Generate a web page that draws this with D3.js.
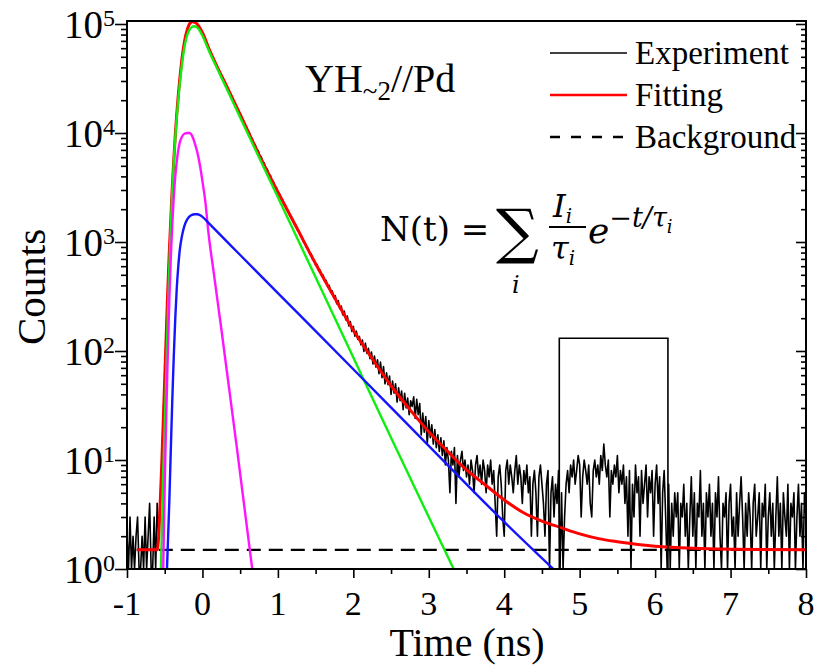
<!DOCTYPE html>
<html><head><meta charset="utf-8">
<script src="https://cdn.jsdelivr.net/npm/d3@7"></script>
<style>body{margin:0;background:#fff}svg{display:block}</style>
</head><body><svg id="c" width="815" height="668"></svg>
<script>
// ---------- data ----------
const xTicks = [-1,0,1,2,3,4,5,6,7,8];
const xMinorTicks = [-0.5,0.5,1.5,2.5,3.5,4.5,5.5,6.5,7.5];
const yTickExps = [0,1,2,3,4,5];
const legendLabels = ["Experiment","Fitting","Background"];

// experimental decay (counts per 0.02 ns channel), in four segments
const expStep = 0.02;
const expSegStarts = [-1.00, 1.20, 3.02, 6.22];
const expCountsA = [2,0,3,1,2,0,2,3,1,0,2,1,3,0,2,4,1,0,3,1,4,2,
  4,9,23,54,145,350,800,1570,3180,5600,9500,15200,22300,31700,42600,55100,67500,79300,89200,97600,102200,104500,104800,103400,101000,98000,93500,88500,
  83000,76200,70500,65800,60100,56600,52100,49300,45400,43000,
  39500,37500,34800,33000,30600,29000,26800,25400,23400,22300,
  20500,19500,17900,17100,15600,14950,13800,13150,12050,11550,
  10600,10150,9250,8900,8100,7800,7100,6870,6220,6030,
  5460,5290,4780,4650,4190,4090,3670,3600,3210,3160,
  2820,2780,2490,2450,2200,2180,1950,1920,1730,1700];
const expCountsB = [1590,1455,1420,1285,1262,1140,1112,1003,985,890,
  872,790,780,695,688,612,620,548,552,489,
  497,436,444,388,401,345,356,307,322,271,
  290,244,258,214,232,193,210,170,186,151,
  168,137,152,128,136,114,126,99,118,95,
  106,85,98,76,90,71,83,62,79,57,
  72,50,63,49,59,40,53,41,50,34,
  46,35,43,29,41,30,37,26,35,31,
  38,24,36,26,33,17,27,18,25,14,
  23];
const expCountsC = [16,21,14,19,13,17,12,16,11,15,9,13,10,5,12,9,13,4,11,7,10,12,8,10,7,
  9,6,10,8,5,9,11,7,9,6,10,8,5,9,7,10,6,8,4,2,7,9,6,3,2,8,10,6,9,7,
  5,8,11,6,9,7,4,8,6,9,5,7,2,6,8,5,2,7,9,6,4,2,6,8,0,5,7,3,6,4,8,0,5,0,3,6,
  8,5,9,7,10,6,8,11,9,3,7,10,8,6,9,4,3,8,10,7,9,6,11,8,14,9,7,10,3,8,6,9,7,11,5,8,6,9,4,
  7,2,8,0,6,3,9,5,7,2,8,4,6,9,3,7,5,8,2,6,9,4,7,0,5,8,3,0,6,1];
const expCountsD = [4,2,5,3,5,1,4,3,6,2, 4,0,3,7,2,5,1,4,3,8, 2,4,0,5,3,6,2,4,1,5,
  3,7,2,0,4,3,5,1,4,6, 2,3,0,5,2,4,7,3,1,4, 2,5,3,0,4,6,2,3,5,1,
  4,3,6,0,3,5,2,4,1,3, 7,2,4,0,5,3,2,6,1,4, 3,5,0,3,6,2,4,1,5,3];

// total fit (red)
const fitT = [-0.87,-0.6,-0.58,-0.56,-0.54,-0.52,-0.50,-0.48,-0.46,-0.44,-0.42,-0.40,-0.38,-0.36,-0.34,-0.32,-0.30,-0.28,-0.26,-0.24,-0.22,-0.20,-0.18,-0.16,-0.13,-0.10,-0.07,-0.04,0,0.1,0.2,0.3,0.5,0.75,1.0,1.25,1.5,1.75,2.0,2.25,2.5,2.75,3.0,3.25,3.5,3.75,4.0,4.25,4.5,4.75,5.0,5.25,5.5,6.0,6.5,7.0,8.0];
const fitV = [1.5,1.5,2.0,4.0,8.9,22,56,141,355,794,1585,3162,5623,9550,15100,22400,31600,42700,55000,67600,79400,89100,97700,102300,104700,103500,100000,93300,83200,56300,39800,28800,14800,6310,2880,1350,631,309,155,85,48,29,18.2,12.0,8.1,5.9,4.3,3.3,2.75,2.4,2.1,1.9,1.78,1.62,1.55,1.52,1.5];
// component 1 (green)
const c1T = [-0.55,-0.52,-0.50,-0.48,-0.46,-0.44,-0.42,-0.40,-0.38,-0.36,-0.34,-0.32,-0.30,-0.28,-0.26,-0.24,-0.22,-0.20,-0.17,-0.14,-0.11,-0.08,-0.05,0,0.1,0.2,0.5,1.0,1.5,2.0,2.5,3.0,3.33];
const c1V = [1,8,20,63,200,560,1350,2900,5400,9000,14000,20500,28500,38000,49000,60500,71000,80000,89000,94000,95500,94000,90000,78000,54000,38500,13900,2570,475,87,16,3.0,1];
// component 2 (magenta)
const c2T = [-0.52,-0.50,-0.48,-0.46,-0.44,-0.42,-0.40,-0.38,-0.36,-0.34,-0.32,-0.30,-0.27,-0.24,-0.20,-0.17,-0.14,-0.10,-0.06,-0.03,0,0.04,0.075,0.15,0.25,0.45,0.66];
const c2V = [1,6,25,90,280,700,1450,2600,4000,5500,7000,8200,9300,9850,10000,10000,9500,8000,6300,4900,3600,2300,1300,520,160,14,1];
// component 3 (blue)
const c3T = [-0.47,-0.44,-0.42,-0.40,-0.38,-0.36,-0.34,-0.32,-0.30,-0.27,-0.24,-0.20,-0.15,-0.10,-0.07,-0.03,0,0.1,0.5,1.0,2.0,3.0,4.0,4.65];
const c3V = [1,4,12,35,90,200,380,600,850,1150,1400,1620,1760,1800,1800,1760,1700,1450,760,340,68,13.5,2.7,1];
// background level and gate window
const bgLevel = 1.5, bgStart = -0.87, bgEnd = 8;
const gateStart = 4.73, gateEnd = 6.17, gateTop = 131;

// ---------- chart ----------
const svg = d3.select("#c");
const L = 127, R = 806, T = 21, B = 569;
const x = d3.scaleLinear().domain([-1, 8]).range([L, R]);
const y = d3.scaleLog().domain([1, Math.pow(10, (B - T) / 109)]).range([B, T]).clamp(true);
const serif = "'Liberation Serif','Times New Roman',serif";

svg.append("defs").append("clipPath").attr("id","clip")
  .append("rect").attr("x",L).attr("y",T).attr("width",R-L).attr("height",B-T);

const plot = svg.append("g").attr("clip-path","url(#clip)");

const expPts = [];
[expCountsA, expCountsB, expCountsC, expCountsD].forEach((arr, s) => {
  arr.forEach((v, i) => expPts.push([expSegStarts[s] + i * expStep, v]));
});
const line = d3.line().x(d => x(d[0])).y(d => y(Math.max(d[1], 1)));
const smooth = d3.line().x(d => x(d[0])).y(d => y(Math.max(d[1], 1))).curve(d3.curveMonotoneX);

plot.append("path").datum(expPts).attr("d", line)
  .attr("fill","none").attr("stroke","#000").attr("stroke-width",1.6).attr("stroke-linejoin","round");

plot.append("path").datum([[bgStart,bgLevel],[bgEnd,bgLevel]]).attr("d", line)
  .attr("fill","none").attr("stroke","#000").attr("stroke-width",2.2).attr("stroke-dasharray","14,8");

const zip = (a, b) => a.map((t, i) => [t, b[i]]);
plot.append("path").datum(zip(fitT, fitV)).attr("d", smooth)
  .attr("fill","none").attr("stroke","#ff0000").attr("stroke-width",3);
plot.append("path").datum(zip(c1T, c1V)).attr("d", smooth)
  .attr("fill","none").attr("stroke","#10ee10").attr("stroke-width",2.4);
plot.append("path").datum(zip(c2T, c2V)).attr("d", smooth)
  .attr("fill","none").attr("stroke","#ff14ff").attr("stroke-width",2.4);
plot.append("path").datum(zip(c3T, c3V)).attr("d", smooth)
  .attr("fill","none").attr("stroke","#1414ff").attr("stroke-width",2.4);

plot.append("path")
  .attr("d", `M${x(gateStart)},${y(1)}V${y(gateTop)}H${x(gateEnd)}V${y(1)}`)
  .attr("fill","none").attr("stroke","#000").attr("stroke-width",1.6);

// ---------- axes ----------
const majorY = yTickExps.map(e => Math.pow(10, e));
const minorY = [];
yTickExps.forEach(e => { if (e < 5) for (let k = 2; k <= 9; k++) minorY.push(k * Math.pow(10, e)); });

function styleAxis(g) {
  g.select(".domain").remove();
  g.selectAll("line").attr("stroke","#000").attr("stroke-width",1.6);
}
svg.append("g").attr("transform",`translate(0,${B})`)
  .call(d3.axisBottom(x).tickValues(xTicks).tickSize(9).tickFormat(""))
  .call(styleAxis);
svg.append("g").attr("transform",`translate(0,${B})`)
  .call(d3.axisBottom(x).tickValues(xMinorTicks).tickSize(5).tickFormat(""))
  .call(styleAxis);
svg.append("g").attr("transform",`translate(${L},0)`)
  .call(d3.axisLeft(y).tickValues(majorY).tickSize(12).tickFormat(""))
  .call(styleAxis);
svg.append("g").attr("transform",`translate(${L},0)`)
  .call(d3.axisLeft(y).tickValues(minorY).tickSize(6).tickFormat(""))
  .call(styleAxis);
// right axis: ticks pointing inward
svg.append("g").attr("transform",`translate(${R},0)`)
  .call(d3.axisRight(y).tickValues(majorY).tickSize(-10).tickFormat(""))
  .call(styleAxis);
svg.append("g").attr("transform",`translate(${R},0)`)
  .call(d3.axisRight(y).tickValues(minorY).tickSize(-5).tickFormat(""))
  .call(styleAxis);

svg.append("rect").attr("x",L).attr("y",T).attr("width",R-L).attr("height",B-T)
  .attr("fill","none").attr("stroke","#000").attr("stroke-width",2);

// tick labels
svg.append("g").selectAll("text").data(xTicks).join("text")
  .attr("x", d => x(d)).attr("y", B + 46)
  .attr("text-anchor","middle").attr("font-family",serif).attr("font-size",34)
  .text(d => String(d));
const yl = svg.append("g");
yTickExps.forEach(e => {
  const yy = y(Math.pow(10, e));
  yl.append("text").attr("x", 103).attr("y", yy + 14).attr("text-anchor","end")
    .attr("font-family",serif).attr("font-size",39).text("10");
  yl.append("text").attr("x", 103).attr("y", yy + 2).attr("text-anchor","start")
    .attr("font-family",serif).attr("font-size",24).text(String(e));
});

// axis titles
svg.append("text").attr("transform","translate(45,287) rotate(-90)")
  .attr("text-anchor","middle").attr("font-family",serif).attr("font-size",41).text("Counts");
svg.append("text").attr("x",467).attr("y",656)
  .attr("text-anchor","middle").attr("font-family",serif).attr("font-size",40).text("Time (ns)");

// sample title
const ttl = svg.append("text").attr("x",305).attr("y",92).attr("font-family",serif).attr("font-size",40);
ttl.append("tspan").text("YH");
ttl.append("tspan").attr("font-size",27).attr("dy",8).text("~2");
ttl.append("tspan").attr("dy",-8).text("//Pd");

// legend
const legStyles = [{c:"#000",d:null,w:1.6},{c:"#ff0000",d:null,w:2.4},{c:"#000",d:"10,11",w:2.4}];
legendLabels.forEach((lab, i) => {
  const ly = 53 + i * 42;
  svg.append("line").attr("x1",550).attr("x2",627).attr("y1",ly).attr("y2",ly)
    .attr("stroke",legStyles[i].c).attr("stroke-width",legStyles[i].w)
    .attr("stroke-dasharray",legStyles[i].d);
  svg.append("text").attr("x",635).attr("y",ly + 11).attr("font-family",serif)
    .attr("font-size",33).text(lab);
});

// formula
const mathF = "'DejaVu Serif','Liberation Serif',serif";
const fm = svg.append("g").attr("font-family",mathF).attr("fill","#000");
fm.append("text").attr("x",380).attr("y",241).attr("font-size",34).text("N(t) =");
fm.append("text").attr("x",496).attr("y",252).attr("font-size",60).text("\u2211");
fm.append("text").attr("x",512).attr("y",293).attr("font-size",24).attr("font-style","italic").text("i");
const num = fm.append("text").attr("x",553).attr("y",217).attr("font-size",32).attr("font-style","italic");
num.append("tspan").text("I");
num.append("tspan").attr("font-size",20).attr("dy",6).text("i");
fm.append("line").attr("x1",549).attr("x2",586).attr("y1",227).attr("y2",227).attr("stroke","#000").attr("stroke-width",2);
const den = fm.append("text").attr("x",551).attr("y",259).attr("font-size",32).attr("font-style","italic");
den.append("tspan").text("\u03C4");
den.append("tspan").attr("font-size",20).attr("dy",6).text("i");
const ex = fm.append("text").attr("x",588).attr("y",243).attr("font-size",36).attr("font-style","italic");
ex.append("tspan").text("e");
ex.append("tspan").attr("font-size",27).attr("dy",-16).text("\u2212t/\u03C4");
ex.append("tspan").attr("font-size",18).attr("dy",6).text("i");
</script></body></html>
